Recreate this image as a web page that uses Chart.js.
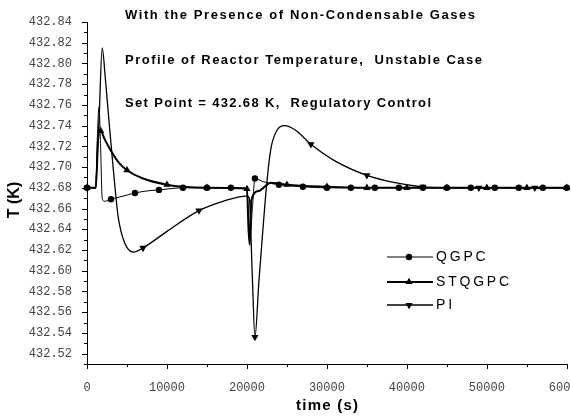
<!DOCTYPE html>
<html>
<head>
<meta charset="utf-8">
<script src="https://cdn.jsdelivr.net/npm/chart.js@4/dist/chart.umd.min.js"></script>
<style>
  html, body { margin: 0; padding: 0; background: #fff; }
  #wrap { width: 571px; height: 417px; position: relative; }
</style>
</head>
<body>
<div id="wrap"><canvas id="c"></canvas></div>
<script>
// ---- data ----
const seriesNames = ["QGPC", "STQGPC", "PI"];

const qgpcTime = [0, 1100, 1300, 1500, 1700, 1900, 2200, 3000, 4500, 6000, 7500, 9000, 12000, 15000, 18000, 20000, 20200, 20400, 20700, 21000, 22000, 24000, 27000, 30000, 33000, 36000, 39000, 42000, 45000, 48000, 51000, 54000, 57000, 60000];
const qgpcTemp = [432.680, 432.680, 432.730, 432.758, 432.720, 432.670, 432.667, 432.669, 432.672, 432.675, 432.677, 432.678, 432.680, 432.680, 432.680, 432.680, 432.650, 432.635, 432.662, 432.689, 432.686, 432.683, 432.681, 432.680, 432.680, 432.680, 432.680, 432.680, 432.680, 432.680, 432.680, 432.680, 432.680, 432.680];
const qgpcMarkers = [0, 3000, 6000, 9000, 12000, 15000, 18000, 21000, 24000, 27000, 30000, 33000, 36000, 39000, 42000, 45000, 48000, 51000, 54000, 57000, 60000];

const stqgpcTime = [0, 1100, 1400, 1700, 2200, 2900, 4000, 5000, 7000, 10000, 12000, 15000, 20000, 20200, 20350, 20550, 21500, 23000, 24000, 25000, 30000, 35000, 40000, 45000, 50000, 55000, 60000];
const stqgpcTemp = [432.680, 432.680, 432.728, 432.735, 432.727, 432.717, 432.704, 432.697, 432.689, 432.683, 432.681, 432.680, 432.679, 432.640, 432.625, 432.668, 432.677, 432.685, 432.684, 432.683, 432.681, 432.680, 432.680, 432.680, 432.680, 432.680, 432.680];
const stqgpcMarkers = [0, 1700, 5000, 10000, 15000, 20000, 25000, 30000, 35000, 40000, 45000, 50000, 55000, 60000];

const piTime = [0, 1000, 1500, 1900, 2300, 2800, 3300, 3900, 4700, 5800, 7000, 10000, 14000, 17000, 20000, 20300, 20650, 21000, 21500, 22000, 22500, 23000, 23800, 24700, 26000, 28000, 31000, 35000, 38500, 42000, 45500, 49000, 56000, 60000];
const piTemp = [432.680, 432.680, 432.745, 432.815, 432.785, 432.740, 432.697, 432.652, 432.627, 432.618, 432.622, 432.638, 432.658, 432.667, 432.672, 432.670, 432.600, 432.536, 432.590, 432.640, 432.686, 432.718, 432.736, 432.740, 432.736, 432.722, 432.706, 432.692, 432.685, 432.681, 432.680, 432.680, 432.680, 432.680];
const piMarkers = [0, 7000, 14000, 21000, 28000, 35000, 42000, 49000, 56000];

const xTickLabels = [0, 10000, 20000, 30000, 40000, 50000, 60000];
const yTickLabels = [432.52, 432.54, 432.56, 432.58, 432.60, 432.62, 432.64, 432.66, 432.68, 432.70, 432.72, 432.74, 432.76, 432.78, 432.80, 432.82, 432.84];

const titleLines = [
  "With the Presence of Non-Condensable Gases",
  "Profile of Reactor Temperature,  Unstable Case",
  "Set Point = 432.68 K,  Regulatory Control"
];
const xTitle = "time (s)";
const yTitle = "T (K)";

// ---- helpers ----
function pts(ts, vs) { return ts.map((t, i) => ({ x: t, y: vs[i] })); }
function markerRadius(ts, marks, r) {
  return ctx => marks.includes(ts[ctx.dataIndex]) ? r : 0;
}

const styles = [
  { pointStyle: 'circle', rotation: 0, radius: 3.2, width: 1 },
  { pointStyle: 'triangle', rotation: 0, radius: 4.2, width: 2 },
  { pointStyle: 'triangle', rotation: 180, radius: 4.2, width: 1.3 }
];

const datasets = [
  { label: seriesNames[0], data: pts(qgpcTime, qgpcTemp), radiusFn: markerRadius(qgpcTime, qgpcMarkers, styles[0].radius) },
  { label: seriesNames[1], data: pts(stqgpcTime, stqgpcTemp), radiusFn: markerRadius(stqgpcTime, stqgpcMarkers, styles[1].radius) },
  { label: seriesNames[2], data: pts(piTime, piTemp), radiusFn: markerRadius(piTime, piMarkers, styles[2].radius) }
].map((d, i) => ({
  label: d.label,
  data: d.data,
  borderColor: '#000',
  backgroundColor: '#000',
  borderWidth: styles[i].width,
  pointStyle: styles[i].pointStyle,
  rotation: styles[i].rotation,
  pointRadius: d.radiusFn,
  pointHoverRadius: d.radiusFn,
  pointBorderWidth: 0,
  pointBackgroundColor: '#000',
  cubicInterpolationMode: 'monotone',
  clip: 8
}));

function spacedText(ctx, text, x0, x1, y, font) {
  ctx.font = font;
  ctx.letterSpacing = '0px';
  const w = ctx.measureText(text).width;
  const ls = (x1 - x0 - w) / (text.length - 1);
  ctx.letterSpacing = ls + 'px';
  ctx.textAlign = 'left';
  ctx.textBaseline = 'middle';
  ctx.fillText(text, x0, y);
  ctx.letterSpacing = '0px';
}

const decor = {
  id: 'decor',
  afterDraw(chart) {
    const ctx = chart.ctx;
    const xs = chart.scales.x, ys = chart.scales.y;
    const left = chart.chartArea.left, bottom = chart.chartArea.bottom;
    ctx.save();
    // tick marks (major + minor)
    ctx.strokeStyle = '#000';
    ctx.lineWidth = 1;
    ctx.beginPath();
    for (let k = 51; k <= 84; k++) {
      const v = 432 + k / 100;
      const py = Math.round(ys.getPixelForValue(v)) + 0.5;
      const len = (k % 2 === 0) ? 5 : 3;
      ctx.moveTo(left - len, py); ctx.lineTo(left, py);
    }
    for (let t = 0; t <= 60000; t += 5000) {
      const px = Math.round(xs.getPixelForValue(t)) + 0.5;
      const len = (t % 10000 === 0) ? 5 : 3;
      ctx.moveTo(px, bottom); ctx.lineTo(px, bottom + len);
    }
    ctx.stroke();

    // title annotations inside the plot
    ctx.fillStyle = '#000';
    spacedText(ctx, titleLines[0], 125, 475, 15, 'bold 13px "Liberation Sans", Arial, sans-serif');
    spacedText(ctx, titleLines[1], 125, 482, 60, 'bold 13px "Liberation Sans", Arial, sans-serif');
    spacedText(ctx, titleLines[2], 125, 431, 103, 'bold 13px "Liberation Sans", Arial, sans-serif');

    // legend
    const ly = [257, 282, 305];
    chart.data.datasets.forEach((ds, i) => {
      const y = ly[i];
      ctx.strokeStyle = '#000';
      ctx.lineWidth = ds.borderWidth;
      ctx.beginPath(); ctx.moveTo(387, y); ctx.lineTo(433, y); ctx.stroke();
      ctx.fillStyle = '#000';
      Chart.helpers.drawPoint(ctx, { pointStyle: styles[i].pointStyle, rotation: styles[i].rotation, radius: styles[i].radius, borderWidth: 0 }, 409, y);
      ctx.font = '14px "Liberation Sans", Arial, sans-serif';
      ctx.letterSpacing = '2.8px';
      ctx.textAlign = 'left'; ctx.textBaseline = 'middle';
      ctx.fillText(ds.label, 436, y);
      ctx.letterSpacing = '0px';
    });

    // axis titles
    ctx.fillStyle = '#000';
    spacedText(ctx, xTitle, 296, 358, 406, 'bold 15px "Liberation Sans", Arial, sans-serif');
    ctx.translate(15, 200);
    ctx.rotate(-Math.PI / 2);
    ctx.font = 'bold 16px "Liberation Sans", Arial, sans-serif';
    ctx.textAlign = 'center'; ctx.textBaseline = 'middle';
    ctx.fillText(yTitle, 0, 0);
    ctx.restore();
  }
};

new Chart(document.getElementById('c'), {
  type: 'line',
  data: { datasets },
  options: {
    responsive: true,
    maintainAspectRatio: false,
    animation: false,
    events: [],
    layout: { padding: { top: 22, right: 4, left: 0, bottom: 0 } },
    plugins: { legend: { display: false }, tooltip: { enabled: false }, title: { display: false } },
    scales: {
      x: {
        type: 'linear',
        min: 0, max: 60000,
        grid: { display: false },
        border: { display: true, color: '#000', width: 1 },
        afterBuildTicks: s => { s.ticks = xTickLabels.map(v => ({ value: v })); },
        ticks: {
          autoSkip: false, maxRotation: 0, padding: 9,
          color: '#444',
          font: { family: '"Liberation Mono", monospace', size: 12 },
          callback: v => String(v)
        },
        afterFit: s => { s.height = 53; s.paddingLeft = 0; s.paddingRight = 0; }
      },
      y: {
        type: 'linear',
        min: 432.51, max: 432.84,
        grid: { display: false },
        border: { display: true, color: '#000', width: 1 },
        afterBuildTicks: s => { s.ticks = yTickLabels.map(v => ({ value: v })); },
        ticks: {
          autoSkip: false, padding: 7,
          color: '#444',
          font: { family: '"Liberation Mono", monospace', size: 12 },
          callback: v => Number(v).toFixed(2)
        },
        afterFit: s => { s.width = 87; s.paddingTop = 0; s.paddingBottom = 0; }
      }
    }
  },
  plugins: [decor]
});
</script>
</body>
</html>
